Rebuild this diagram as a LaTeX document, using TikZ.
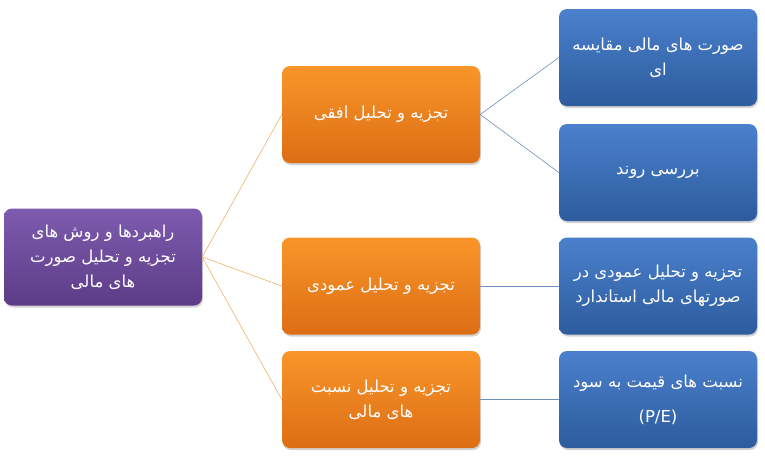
\documentclass[tikz,border=0pt]{standalone}
\usepackage{fontspec}
\newfontfamily\arabicfont[Script=Arabic]{DejaVu Sans}
\TeXXeTstate=1
\usetikzlibrary{shadows}
\newcommand{\fa}[1]{\beginR #1\endR}
\definecolor{rootTop}{HTML}{7E5BAE}
\definecolor{rootBot}{HTML}{5C3C88}
\definecolor{ornTop}{HTML}{F9952A}
\definecolor{ornBot}{HTML}{DC6E14}
\definecolor{bluTop}{HTML}{4A80CC}
\definecolor{bluBot}{HTML}{2D5C9E}
\definecolor{ornLine}{HTML}{F2B06A}
\definecolor{bluLine}{HTML}{6F90BC}
\tikzset{
  box/.style={shape=rectangle,rounded corners=8pt,minimum width=198pt,minimum height=97pt,
    align=center,text=white,font=\arabicfont\fontsize{16.5}{25}\selectfont,
    drop shadow={shadow xshift=1pt,shadow yshift=-2pt,opacity=0.35}},
  rootbox/.style={box,top color=rootTop,bottom color=rootBot},
  ornbox/.style={box,top color=ornTop,bottom color=ornBot},
  blubox/.style={box,top color=bluTop,bottom color=bluBot},
  ornlink/.style={draw=ornLine,line width=0.6pt},
  blulink/.style={draw=bluLine,line width=0.6pt}
}
\begin{document}
\begin{tikzpicture}[x=1pt,y=-1pt]
\useasboundingbox [fill=white] (0,0) rectangle (765,456);
\node (r)  at (103,257)   [rootbox] {\fa{راهبردها  و روش های}\\\fa{تجزیه و تحلیل صورت}\\\fa{های مالی}};
\node (o1) at (381,114.5) [ornbox] {\fa{تجزیه و تحلیل افقی}};
\node (o2) at (381,286)   [ornbox] {\fa{تجزیه و تحلیل عمودی}};
\node (o3) at (381,399.5) [ornbox] {\fa{تجزیه و تحلیل نسبت}\\\fa{های مالی}};
\node (b1) at (658,57.5)  [blubox] {\fa{صورت های مالی مقایسه}\\\fa{ای}};
\node (b2) at (658,172.5) [blubox] {\fa{بررسی روند}};
\node (b3) at (658,286)   [blubox] {\fa{تجزیه و تحلیل عمودی در}\\\fa{صورتهای مالی استاندارد}};
\node (b4) at (658,399.5) [blubox] {\fa{نسبت های قیمت به سود}\\[10pt](P/E)};
\draw [ornlink] (r.east) -- (o1.west);
\draw [ornlink] (r.east) -- (o2.west);
\draw [ornlink] (r.east) -- (o3.west);
\draw [blulink] (o1.east) -- (b1.west);
\draw [blulink] (o1.east) -- (b2.west);
\draw [blulink] (o2.east) -- (b3.west);
\draw [blulink] (o3.east) -- (b4.west);
\end{tikzpicture}
\end{document}
